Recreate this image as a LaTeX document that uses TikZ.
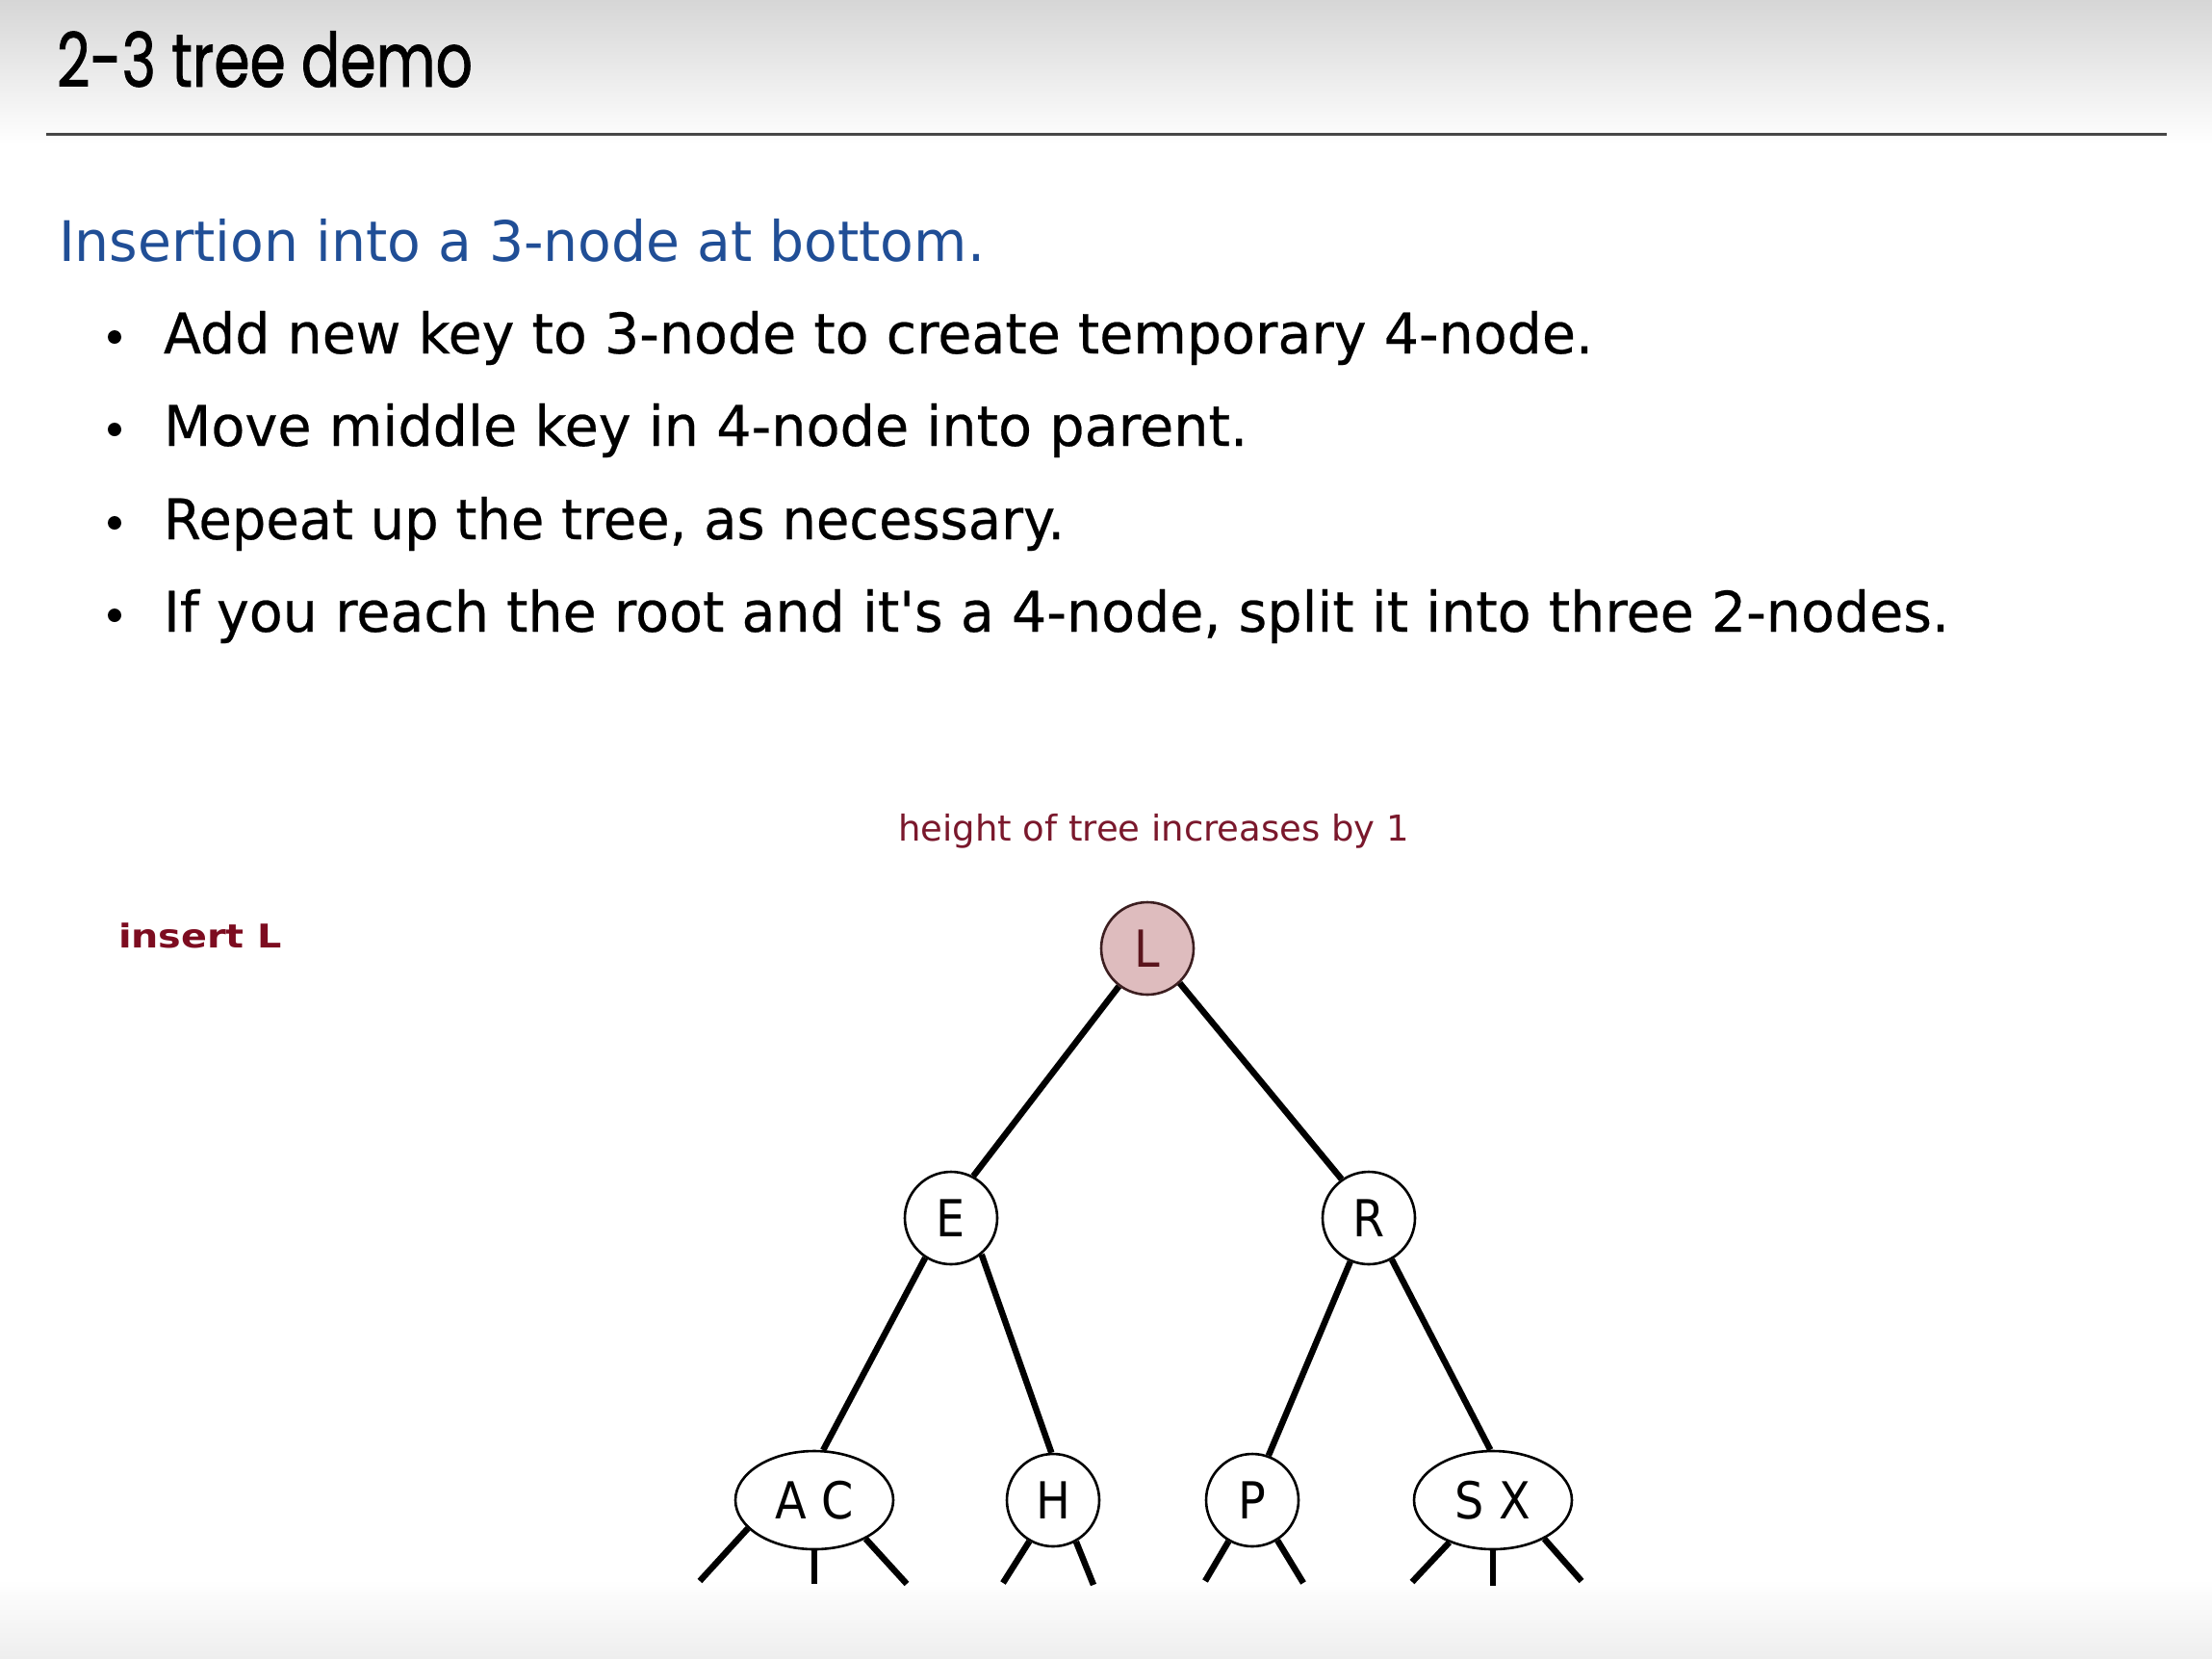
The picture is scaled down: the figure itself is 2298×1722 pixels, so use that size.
\documentclass[tikz,border=0pt]{standalone}
\usepackage{fontspec}
\usepackage{graphicx}
\usetikzlibrary{shapes.geometric}

\newfontfamily\bodyfont[FakeBold=0.4]{DejaVu Sans}
\newfontfamily\headfont{DejaVu Sans}
\newfontfamily\titlefont[FakeBold=1.2]{Poppins}
\newfontfamily\keyfont[FakeStretch=0.9]{DejaVu Sans}

% squeeze a line of text to a given width, keeping its height
\newcommand{\fitto}[2]{\resizebox{#1}{\height}{#2}}

\definecolor{headblue}{RGB}{32,78,150}
\definecolor{notered}{RGB}{122,24,44}
\definecolor{insred}{RGB}{125,12,32}
\definecolor{rootfill}{RGB}{222,188,190}
\definecolor{rootdraw}{RGB}{60,30,32}
\definecolor{rootkey}{RGB}{90,20,28}
\definecolor{rulegray}{RGB}{70,70,70}
\definecolor{topgray}{RGB}{214,214,214}
\definecolor{bottomgray}{RGB}{238,238,238}

\begin{document}
\begin{tikzpicture}[x=1pt,y=-1pt,
  txt/.style={anchor=base west, inner sep=0pt, outer sep=0pt},
  bodytext/.style={txt, font=\bodyfont\fontsize{58}{58}\selectfont},
  keyfont/.style={font=\keyfont\fontsize{53}{53}\selectfont},
  key2/.style={circle, draw=black, line width=2.6pt, fill=white,
    minimum size=96pt, inner sep=0pt, keyfont},
  key3/.style={ellipse, draw=black, line width=2.6pt, fill=white,
    minimum width=164pt, minimum height=102pt, inner sep=0pt, keyfont},
  rootkey/.style={key2, fill=rootfill, draw=rootdraw, text=rootkey},
  link/.style={line width=6.5pt},
  dot/.style={circle, fill=black, inner sep=0pt, minimum size=14pt}]

\useasboundingbox (0,0) rectangle (2298,1722);
\fill[white] (0,0) rectangle (2298,1722);
\shade[top color=topgray, bottom color=white] (0,0) rectangle (2298,150);
\shade[top color=white, bottom color=bottomgray] (0,1640) rectangle (2298,1722);

% title and rule
\node[txt] (title) at (59,90)
  {\fitto{432pt}{\titlefont\fontsize{78}{78}\selectfont 2-3 tree demo}};
\draw[rulegray, line width=3pt] (48,139) -- (2251,139);

% heading and bullet list
\node[txt, font=\headfont\fontsize{58}{58}\selectfont, text=headblue] (head) at (61,271)
  {\fitto{962pt}{Insertion into a 3-node at bottom.}};
\node[bodytext] (l1) at (170,367)
  {\fitto{1485pt}{Add new key to 3-node to create temporary 4-node.}};
\node[bodytext] (l2) at (170,463)
  {\fitto{1126pt}{Move middle key in 4-node into parent.}};
\node[bodytext] (l3) at (170,560)
  {\fitto{936pt}{Repeat up the tree, as necessary.}};
\node[bodytext] (l4) at (170,656)
  {\fitto{1855pt}{If you reach the root and it's a 4-node, split it into three 2-nodes.}};
\node[dot] (b1) at (119,350) {};
\node[dot] (b2) at (119,446) {};
\node[dot] (b3) at (119,543) {};
\node[dot] (b4) at (119,639) {};

% side notes
\node[txt, text=insred] (ins) at (123,984)
  {\fitto{170pt}{\headfont\bfseries\fontsize{34}{34}\selectfont insert L}};
\node[txt, text=notered] (note) at (933,873)
  {\fitto{531pt}{\headfont\fontsize{37}{37}\selectfont height of tree increases by 1}};

% the tree
\node[rootkey] (L) at (1192,985) {L};
\node[key2] (E) at (988,1265) {E};
\node[key2] (R) at (1422,1265) {R};
\node[key3] (AC) at (846,1558) {A C};
\node[key2] (H) at (1094,1558) {H};
\node[key2] (P) at (1301,1558) {P};
\node[key3] (SX) at (1551,1558) {S X};

\draw[link] (L.233) -- (E.62);
\draw[link] (L.313) -- (R.125);
\draw[link] (E.237) -- (AC.80);
\draw[link] (E.310) -- (H.92);
\draw[link] (R.247) -- (P.70);
\draw[link] (R.299) -- (SX.93);

% null links below the bottom nodes
\coordinate (ac1) at (727,1642);
\coordinate (ac2) at (846,1645);
\coordinate (ac3) at (942,1645);
\coordinate (h1) at (1042,1644);
\coordinate (h2) at (1136,1646);
\coordinate (p1) at (1252,1642);
\coordinate (p2) at (1354,1644);
\coordinate (sx1) at (1467,1643);
\coordinate (sx2) at (1551,1647);
\coordinate (sx3) at (1643,1642);
\draw[link] (AC.203) -- (ac1);
\draw[link] (AC.south) -- (ac2);
\draw[link] (AC.323) -- (ac3);
\draw[link] (H.240) -- (h1);
\draw[link] (H.299) -- (h2);
\draw[link] (P.240) -- (p1);
\draw[link] (P.302) -- (p2);
\draw[link] (SX.224) -- (sx1);
\draw[link] (SX.south) -- (sx2);
\draw[link] (SX.323) -- (sx3);
\end{tikzpicture}
\end{document}
